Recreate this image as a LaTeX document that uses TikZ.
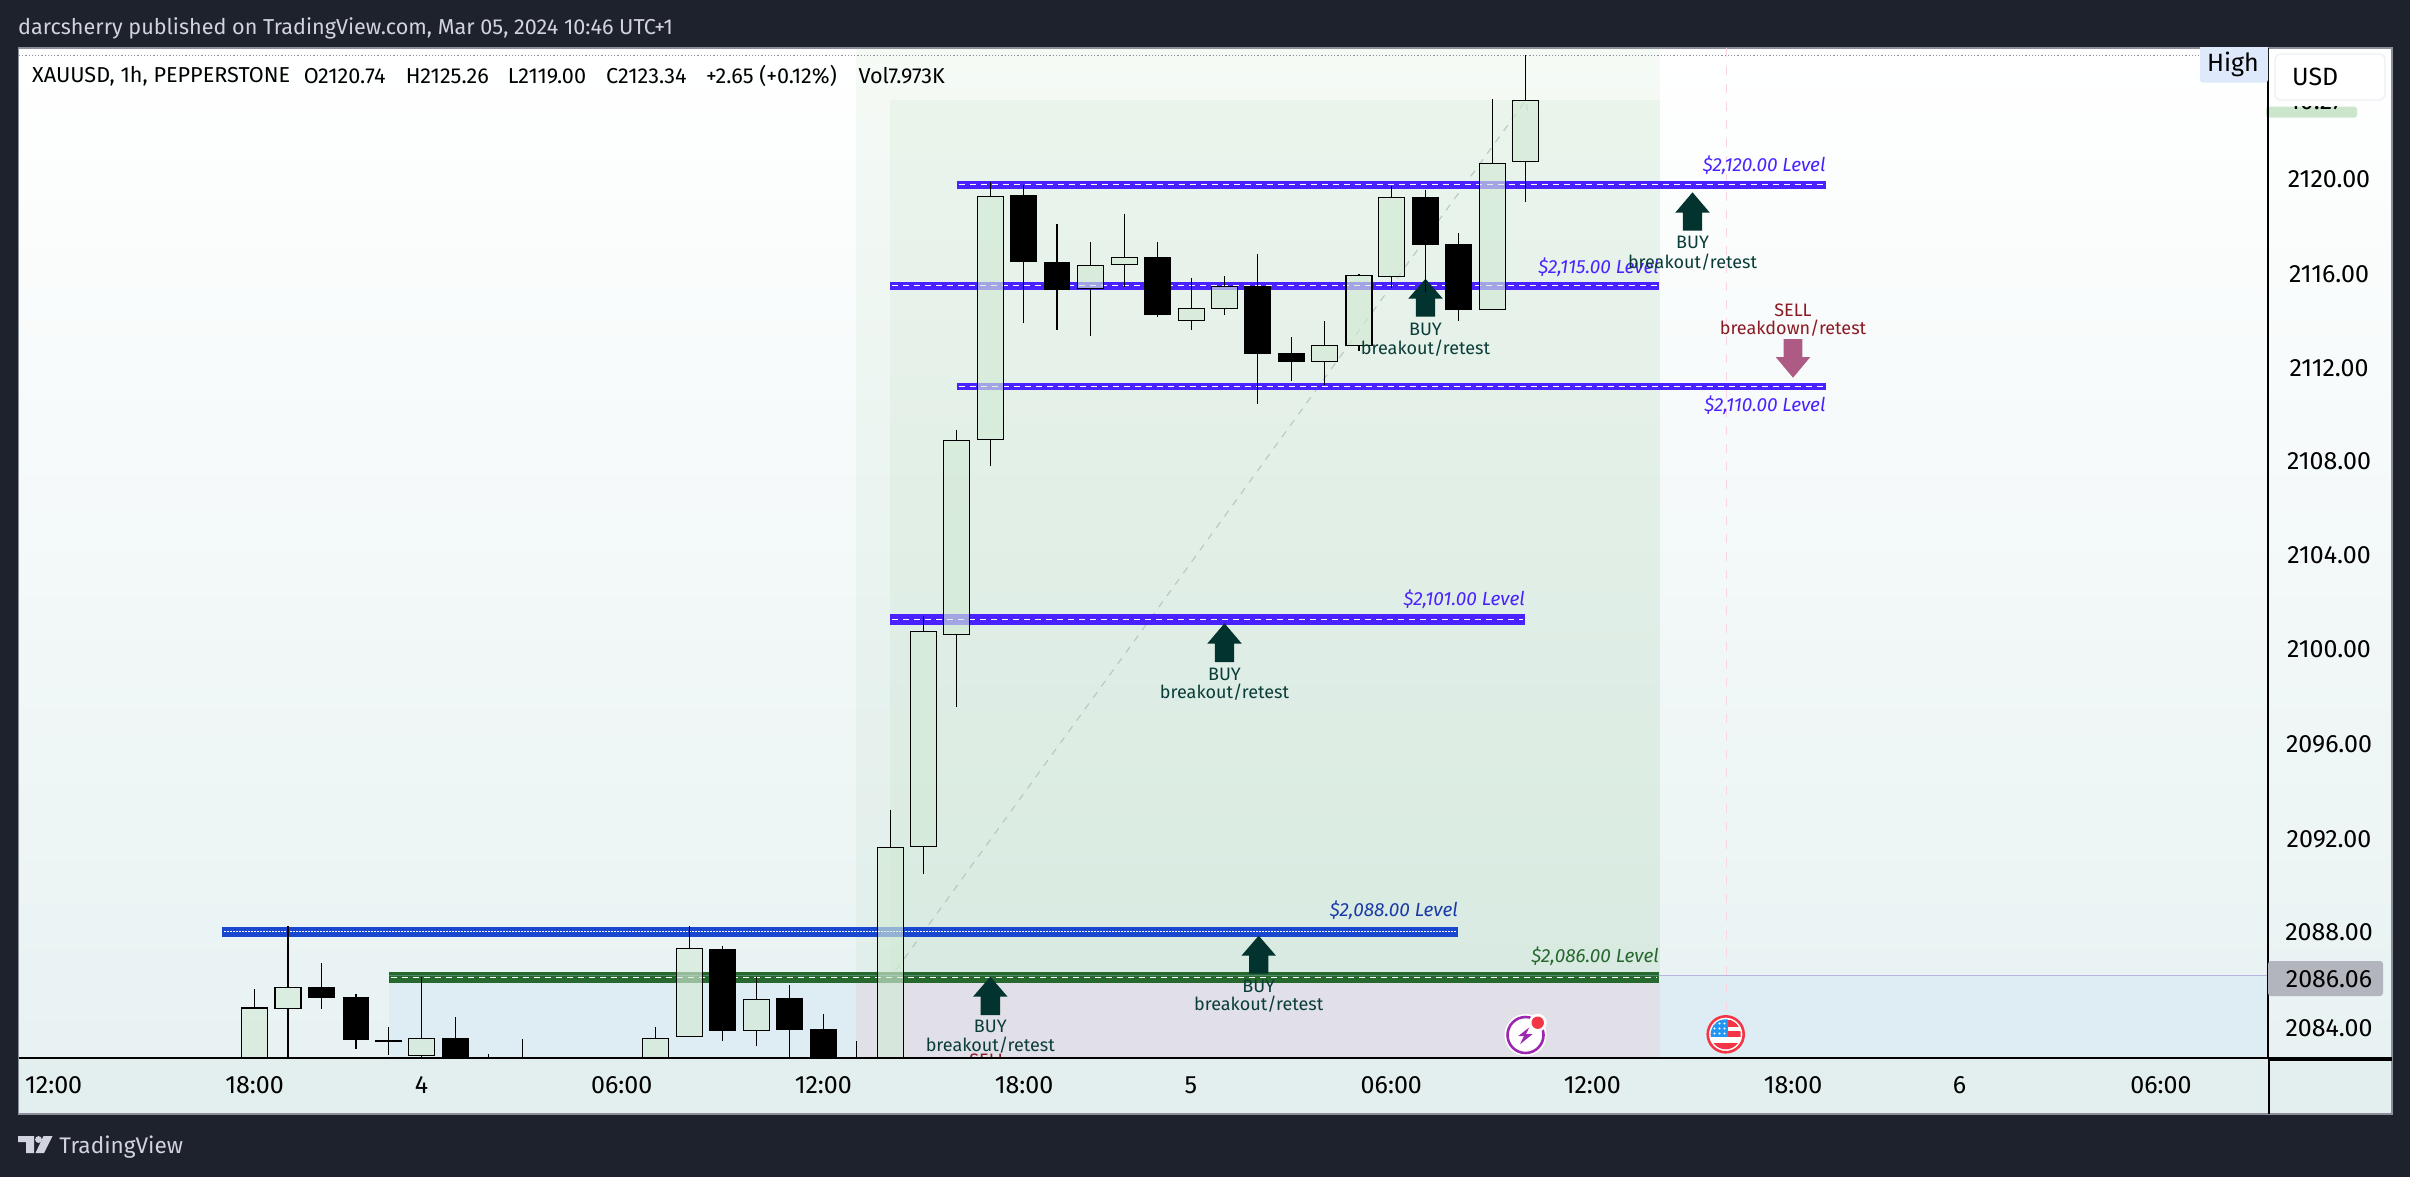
\documentclass[tikz,border=0pt]{standalone}
\usepackage{fontspec}
\setmainfont{Fira Sans}
\definecolor{pagebg}{HTML}{1E222D}
\definecolor{hdrtxt}{HTML}{D1D4DC}
\definecolor{framegray}{HTML}{8A8F99}
\definecolor{lowbg}{HTML}{E8F2F2}
\definecolor{axisbg}{HTML}{E3EFEF}
\definecolor{tintblue}{HTML}{DEECF4}
\definecolor{tintpurple}{HTML}{E1E0E8}
\definecolor{fibgreen}{HTML}{3FA34D}
\definecolor{bandviolet}{HTML}{4A22FF}
\definecolor{bandblue}{HTML}{1A47D0}
\definecolor{bandgreen}{HTML}{27682E}
\definecolor{bandgreenlt}{HTML}{4F8A6E}
\definecolor{btnborder}{HTML}{ECEFF5}
\definecolor{txtblue}{HTML}{1A3AA8}
\definecolor{upfill}{HTML}{D3EAD6}
\definecolor{buycol}{HTML}{03332E}
\definecolor{buytxt}{HTML}{0A3D38}
\definecolor{sellarr}{HTML}{AD5A85}
\definecolor{selltxt}{HTML}{8A1A24}
\definecolor{fibline}{HTML}{B8C8C0}
\definecolor{pinkline}{HTML}{F8D5E0}
\definecolor{pline}{HTML}{B8B4DC}
\definecolor{hightag}{HTML}{DEEAFB}
\definecolor{greentag}{HTML}{CBE6CC}
\definecolor{pricebox}{HTML}{B2B5BE}
\definecolor{evpurple}{HTML}{9C27B0}
\definecolor{evred}{HTML}{F23645}
\definecolor{evblue}{HTML}{2196F3}
\tikzset{
  axlab/.style={font=\fontsize{25bp}{30bp}\selectfont,inner sep=0pt,text=black},
  legend/.style={font=\fontsize{21.6bp}{26bp}\selectfont,inner sep=0pt,anchor=west,text=black},
  lvlab/.style={font=\fontsize{19bp}{23bp}\selectfont\itshape,inner sep=0pt,anchor=east},
  siglab/.style={font=\fontsize{18bp}{22bp}\selectfont,inner sep=0pt},
  wick/.style={draw=black,line width=1.3bp},
  ubody/.style={draw=black,line width=1.5bp,fill=upfill,fill opacity=.65},
  dbody/.style={fill=black},
  wdash/.style={draw=white,line width=1bp,dash pattern=on 6bp off 5bp},
  wdot/.style={draw=white,line width=1bp,dash pattern=on 1.5bp off 1.5bp},
}
% x, wick top, body top, body bottom, wick bottom
\newcommand\myUp[5]{\draw[wick] (#1,#2)--(#1,#3) (#1,#4)--(#1,#5);
  \path[ubody] (#1-13,#3) rectangle (#1+13,#4);}
\newcommand\myDn[5]{\draw[wick] (#1,#2)--(#1,#5);
  \path[dbody] (#1-13.4,#3) rectangle (#1+13.4,#4);}
% colour, x0, x1, y0, y1, dash style, ydash
\newcommand\myBand[7]{\fill[#1] (#2,#4-.4) rectangle (#3,#5+.4);
  \draw[#6] (#2+2,#7)--(#3-2,#7);}
% cx, tip, head base, tail
\newcommand\myUpArr[4]{\fill[buycol] (#1,#2)--(#1+17.3,#3)--(#1+9.7,#3)--(#1+9.7,#4)--(#1-9.7,#4)--(#1-9.7,#3)--(#1-17.3,#3)--cycle;}
\begin{document}
\begin{tikzpicture}[x=1bp,y=-1bp]
\useasboundingbox (0,0) rectangle (2410,1177);
\fill[pagebg] (0,0) rectangle (2410,1177);
% panel
\shade[top color=white,bottom color=lowbg] (18.5,48) rectangle (2392,1058);
\fill[axisbg] (18.5,1058) rectangle (2392,1114);
\draw[framegray,line width=1.5bp] (18.5,1114)--(18.5,48)--(2392,48)--(2392,1114)--cycle;
\begin{scope}
\clip (19,48) rectangle (2268,1058);
% tinted zones
\fill[tintblue] (389,983) rectangle (856,1058);
\fill[tintblue] (1660,976) rectangle (2268,1058);
\fill[tintpurple] (856,983) rectangle (1660,1058);
\fill[fibgreen,opacity=.05] (856,48) rectangle (1660,983);
\fill[fibgreen,opacity=.05] (890,100) rectangle (1660,983);
\draw[fibline,line width=1.1bp,dash pattern=on 7bp off 7bp] (896,970)--(1526,100)--(1528,115);
\draw[pinkline,line width=1bp,dash pattern=on 9bp off 9bp] (1726.5,48)--(1726.5,1010);
\draw[framegray,line width=1.1bp,dash pattern=on 1.2bp off 2bp] (19,55.3)--(2199,55.3);
\draw[pline,line width=1.3bp] (1659,975.3)--(2268,975.3);
% levels
\myBand{bandviolet}{956.6}{1825.7}{181}{189}{wdash}{184.3}
\myBand{bandviolet}{890.3}{1658.9}{282}{290}{wdash}{285.7}
\myBand{bandviolet}{956.6}{1825.7}{383}{390}{wdash}{386.3}
\myBand{bandviolet}{890.3}{1525}{614}{625}{wdash}{619.3}
\myBand{bandblue}{222}{1458}{927}{937}{wdot}{931.3}
\myBand{bandgreen}{389}{1659}{972}{983}{wdash}{977.3}
\draw[bandgreenlt,line width=1.2bp] (389,975.3)--(1659,975.3);
% arrows under the candles
\myUpArr{1425.5}{278.7}{298.7}{316.7}
\myUpArr{1692.5}{192.3}{212.7}{230.7}
\myUpArr{1224.5}{623.3}{643.7}{662}
\myUpArr{1258.7}{935.7}{955.7}{973.7}
\myUpArr{990.3}{976.7}{996.7}{1015}
\fill[sellarr] (1793,377.7)--(1810.3,357)--(1802.3,357)--(1802.3,339)--(1783.7,339)--(1783.7,357)--(1775.7,357)--cycle;
% candles
\myUp{254.5}{989}{1008}{1065}{1065}
\myUp{288}{926.3}{987.3}{1008.3}{1065}
\myDn{321.4}{963}{987}{997.7}{1008.7}
\myDn{355.9}{994}{997}{1039.7}{1048.7}
\myDn{388.4}{1027}{1040}{1042}{1054.7}
\myUp{421.6}{976.7}{1038.3}{1055.3}{1065}
\myDn{455.4}{1017}{1038}{1065}{1065}
\draw[wick] (488.5,1054)--(488.5,1065);
\draw[wick] (522.3,1039)--(522.3,1065);
\myUp{655.6}{1027}{1038.3}{1065}{1065}
\myUp{689.4}{926.3}{948.3}{1036.3}{1036.3}
\myDn{722.6}{946}{949}{1030.7}{1040.7}
\myUp{756.4}{976.7}{999.3}{1030.7}{1045.7}
\myDn{789.5}{985}{998}{1029.7}{1065}
\myDn{823.3}{1014}{1029}{1065}{1065}
\draw[wick] (856.5,1041)--(856.5,1065);
\myUp{890.3}{810}{847.3}{1065}{1065}
\myUp{923.5}{616}{631.3}{846.3}{873.7}
\myUp{956.6}{430}{440.3}{634.3}{706.7}
\myUp{990.3}{182}{196.3}{439.3}{465.7}
\myDn{1023.7}{185}{195}{261.7}{322.7}
\myDn{1057}{224}{262}{290}{329.7}
\myUp{1090.3}{242}{265.3}{288.7}{335.7}
\myUp{1124.5}{214}{257.3}{264.7}{286.7}
\myDn{1157.7}{242}{257}{314.7}{316.7}
\myUp{1191.3}{278}{308.3}{320.7}{330}
\myUp{1224.5}{276}{286.3}{308.7}{314.7}
\myDn{1257.7}{254}{286}{353.7}{403.7}
\myDn{1291.3}{337}{353}{361.7}{380.7}
\myUp{1324.5}{321}{345.3}{361.3}{385}
\myUp{1359}{274}{275.3}{345.3}{350.7}
\myUp{1391.3}{186}{197.3}{276.3}{287.7}
\myDn{1425.5}{190}{197}{245}{291.7}
\myDn{1458.7}{233}{244}{309.7}{320.7}
\myUp{1492.3}{99}{163.3}{309.3}{309.3}
\myUp{1525.5}{55.3}{100.3}{161.3}{201.7}
% level labels
\node[lvlab,text=bandviolet] (l2120) at (1825.7,165) {\$2,120.00 Level};
\node[lvlab,text=bandviolet] (l2115) at (1659,267) {\$2,115.00 Level};
\node[lvlab,text=bandviolet] (l2110) at (1825.7,405) {\$2,110.00 Level};
\node[lvlab,text=bandviolet] (l2101) at (1525,599) {\$2,101.00 Level};
\node[lvlab,text=txtblue] (l2088) at (1458,910.7) {\$2,088.00 Level};
\node[lvlab,text=bandgreen] (l2086) at (1659,956.7) {\$2,086.00 Level};
% signal labels
\node[siglab,text=buytxt] (ba1) at (1425.5,329) {BUY};
\node[siglab,text=buytxt] (ba2) at (1425.5,347.7) {breakout/retest};
\node[siglab,text=buytxt] (bb1) at (1692.5,242.7) {BUY};
\node[siglab,text=buytxt] (bb2) at (1692.5,261.7) {breakout/retest};
\node[siglab,text=buytxt] (bc1) at (1224.5,674) {BUY};
\node[siglab,text=buytxt] (bc2) at (1224.5,692.3) {breakout/retest};
\node[siglab,text=buytxt] (bd1) at (1258.7,986) {BUY};
\node[siglab,text=buytxt] (bd2) at (1258.7,1004) {breakout/retest};
\node[siglab,text=buytxt] (be1) at (990.3,1026.7) {BUY};
\node[siglab,text=buytxt] (be2) at (990.3,1045.3) {breakout/retest};
\node[siglab,text=selltxt] (se0) at (988,1060.5) {SELL};
\node[siglab,text=selltxt] (sa1) at (1793,310) {SELL};
\node[siglab,text=selltxt] (sa2) at (1793,328.3) {breakdown/retest};
% event icons
\fill[white] (1525.5,1035) circle (21);
\draw[evpurple,line width=2.6bp] (1525.5,1035) circle (18);
\fill[evpurple] (1529.3,1027.3)--(1518.3,1036)--(1524,1036)--(1520,1044.3)--(1532.7,1034)--(1526,1034)--cycle;
\fill[white] (1537.7,1022.7) circle (9);
\fill[evred] (1537.7,1022.7) circle (6.2);
\fill[white] (1725.7,1034.3) circle (19.3);
\begin{scope}
\clip (1725.7,1034.3) circle (15);
\fill[evred] (1705,1020) rectangle (1746,1026.7);
\fill[evred] (1705,1031) rectangle (1746,1037);
\fill[evred] (1705,1042.5) rectangle (1746,1050);
\fill[evblue] (1705,1019) rectangle (1727.7,1037.3);
\foreach \a in {1714.5,1719.5,1724.5}\foreach \b in {1023.5,1028.5,1033.5}{\fill[white] (\a,\b) circle (1.2);}
\end{scope}
\draw[evred,line width=2.6bp] (1725.7,1034.3) circle (18);
\end{scope}
% axes
\draw[black,line width=1.8bp] (2268,48)--(2268,1058);
\draw[black,line width=1.8bp] (18.5,1058)--(2392,1058);
\draw[black,line width=2.4bp] (2269,1059.5)--(2392,1059.5);
\draw[black,line width=1.8bp] (2269,1059)--(2269,1114);
% high tag
\path[fill=hightag,rounded corners=3bp] (2200,44) rectangle (2268,82.7);
\fill[pagebg] (2190,44) rectangle (2280,47.2);
\node[axlab] (hightxt) at (2233,64) {High};
% price tag
\path[fill=greentag,rounded corners=2.5bp] (2266,106.7) rectangle (2357,117.7);
\begin{scope}
\clip (2270,106.7) rectangle (2360,109.3);
\node[axlab,anchor=base] (cntd) at (2316,109.5) {10:27};
\end{scope}
\draw[black,line width=1.8bp] (2268,100)--(2268,125);
\path[fill=white,draw=btnborder,rounded corners=6bp,line width=1.3bp] (2275,54) rectangle (2385,100);
\node[axlab,anchor=west] (usd) at (2292,76.7) {USD};
% price axis
\node[axlab] (p1) at (2329,179.5) {2120.00};
\node[axlab] (p2) at (2329,273.8) {2116.00};
\node[axlab] (p3) at (2329,367.8) {2112.00};
\node[axlab] (p4) at (2329,461.5) {2108.00};
\node[axlab] (p5) at (2329,555.5) {2104.00};
\node[axlab] (p6) at (2329,649.5) {2100.00};
\node[axlab] (p7) at (2329,744.2) {2096.00};
\node[axlab] (p8) at (2329,838.8) {2092.00};
\node[axlab] (p9) at (2329,932.5) {2088.00};
\path[fill=pricebox,rounded corners=3bp] (2268,961) rectangle (2383,996);
\node[axlab] (p10) at (2329,978.8) {2086.06};
\node[axlab] (p11) at (2329,1027.8) {2084.00};
% time axis
\node[axlab] (t1) at (53.6,1085) {12:00};
\node[axlab] (t2) at (254.5,1085) {18:00};
\node[axlab] (t3) at (421.6,1085) {4};
\node[axlab] (t4) at (621.8,1085) {06:00};
\node[axlab] (t5) at (823.3,1085) {12:00};
\node[axlab] (t6) at (1024,1085) {18:00};
\node[axlab] (t7) at (1190.8,1085) {5};
\node[axlab] (t8) at (1391.3,1085) {06:00};
\node[axlab] (t9) at (1592.3,1085) {12:00};
\node[axlab] (t10) at (1793,1085) {18:00};
\node[axlab] (t11) at (1959.5,1085) {6};
\node[axlab] (t12) at (2161,1085) {06:00};
% legend
\node[legend] (g1) at (32,76) {XAUUSD, 1h, PEPPERSTONE};
\node[legend] (g2) at (303.6,76) {O2120.74};
\node[legend] (g3) at (405.6,76) {H2125.26};
\node[legend] (g4) at (507.7,76) {L2119.00};
\node[legend] (g5) at (605.9,76) {C2123.34};
\node[legend] (g6) at (706,76) {+2.65 (+0.12\%)};
\node[legend] (g7) at (858.4,76) {Vol7.973K};
% header and footer
\node[legend,text=hdrtxt] (hdr) at (18,28) {darcsherry published on TradingView.com, Mar 05, 2024 10:46 UTC+1};
\fill[hdrtxt] (18,1136)--(34,1136)--(34,1153)--(26,1153)--(26,1142)--(18,1142)--cycle;
\fill[hdrtxt] (38.5,1139.5) circle (3.4);
\fill[hdrtxt] (43.5,1136)--(52.5,1136)--(44,1153)--(35.5,1153)--cycle;
\node[legend,text=hdrtxt,font=\fontsize{22.6bp}{27bp}\selectfont] (tvtxt) at (59.3,1147) {TradingView};
\end{tikzpicture}
\end{document}
